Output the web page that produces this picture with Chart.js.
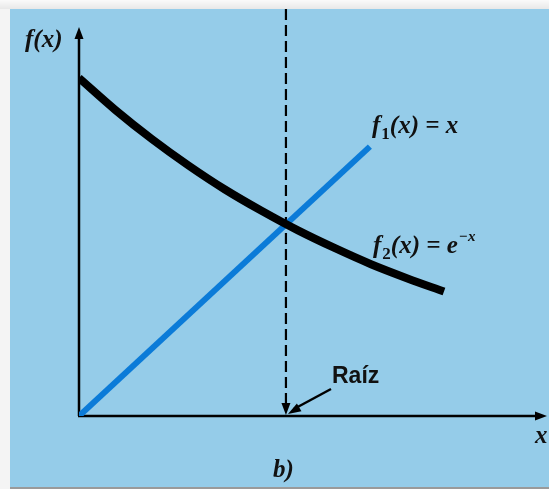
<!DOCTYPE html>
<html>
<head>
<meta charset="utf-8">
<script src="https://cdn.jsdelivr.net/npm/chart.js@4/dist/chart.umd.min.js"></script>
<style>
  html, body { margin: 0; padding: 0; background: #f3f3f3; }
  #wrap { width: 549px; height: 489px; }
</style>
</head>
<body>
<div id="wrap"><canvas id="c" width="549" height="489"></canvas></div>
<script>
// f2(x) = e^-x, sampled along the curve
const curveX = [0, 0.1, 0.2, 0.3, 0.4, 0.5, 0.6, 0.7, 0.8, 0.9, 1.0];
const curveY = [1.00, 0.905, 0.819, 0.741, 0.670, 0.607, 0.549, 0.497, 0.449, 0.407, 0.368];
// f1(x) = x
const lineX = [0, 0.797];
const lineY = [0, 0.797];
// root of f1 = f2
const rootX = 0.567;
// axis extents
const xMax = 1.285;
const yMax = 1.204;
const yAxisTip = 1.151;

const toPts = (xs, ys) => xs.map((x, i) => ({ x: x, y: ys[i] }));

function arrowHead(ctx, fx, fy, tx, ty, len, half) {
  const a = Math.atan2(ty - fy, tx - fx);
  const bx = tx - len * Math.cos(a), by = ty - len * Math.sin(a);
  ctx.beginPath();
  ctx.moveTo(tx, ty);
  ctx.lineTo(bx + half * Math.sin(a), by - half * Math.cos(a));
  ctx.lineTo(bx - half * Math.sin(a), by + half * Math.cos(a));
  ctx.closePath();
  ctx.fill();
}

const panelPlugin = {
  id: 'panel',
  beforeDraw(chart) {
    const ctx = chart.ctx;
    ctx.save();
    const g = ctx.createLinearGradient(0, 0, 0, 10);
    g.addColorStop(0, '#fafafa');
    g.addColorStop(1, '#e6e6e6');
    ctx.fillStyle = '#f4f4f4';
    ctx.fillRect(0, 0, 549, 489);
    ctx.fillStyle = g;
    ctx.fillRect(0, 0, 549, 9);
    ctx.fillStyle = '#95cce9';
    ctx.fillRect(10, 9, 539, 478);
    ctx.fillStyle = '#9a9a9a';
    ctx.fillRect(10, 487, 539, 2);
    ctx.restore();
  }
};

const axesPlugin = {
  id: 'axesDraw',
  beforeDatasetsDraw(chart) {
    const ctx = chart.ctx, xs = chart.scales.x, ys = chart.scales.y;
    const ox = xs.getPixelForValue(0), oy = ys.getPixelForValue(0);
    const right = xs.getPixelForValue(xMax);
    const top = ys.getPixelForValue(yAxisTip);
    ctx.save();
    ctx.strokeStyle = '#000';
    ctx.fillStyle = '#000';
    ctx.lineWidth = 2.5;
    ctx.beginPath();
    ctx.moveTo(ox, oy);
    ctx.lineTo(ox, top + 8);
    ctx.moveTo(ox - 1, oy);
    ctx.lineTo(right - 8, oy);
    ctx.stroke();
    arrowHead(ctx, ox, oy, ox, top, 12, 4.5);
    arrowHead(ctx, ox, oy, right - 1, oy, 12, 4.5);
    ctx.restore();
  },
  afterDatasetsDraw(chart) {
    const ctx = chart.ctx, xs = chart.scales.x, ys = chart.scales.y;
    const rx = xs.getPixelForValue(rootX), oy = ys.getPixelForValue(0);
    ctx.save();
    ctx.fillStyle = '#000';
    ctx.strokeStyle = '#000';
    // arrowhead closing the dashed root marker
    arrowHead(ctx, rx, oy - 20, rx, oy - 1, 12, 4.5);
    // arrow from the label to the root
    ctx.lineWidth = 2.5;
    ctx.beginPath();
    ctx.moveTo(331, 389);
    ctx.lineTo(rx + 8, oy - 7);
    ctx.stroke();
    arrowHead(ctx, 331, 389, rx + 2, oy - 2, 13, 4.5);

    // labels
    ctx.textBaseline = 'alphabetic';
    ctx.fillStyle = '#111';
    const ser = "'Liberation Serif', 'Times New Roman', serif";
    const main = 'bold italic 25px ' + ser;
    ctx.font = main;
    ctx.fillText('f(x)', 25, 47);

    let x = 372;
    ctx.fillText('f', x, 133); x += ctx.measureText('f').width + 1;
    ctx.font = 'bold 17px ' + ser;
    ctx.fillText('1', x, 139); x += ctx.measureText('1').width;
    ctx.font = main;
    ctx.fillText('(x) = x', x, 133);

    x = 373;
    ctx.fillText('f', x, 253); x += ctx.measureText('f').width + 1;
    ctx.font = 'bold 17px ' + ser;
    ctx.fillText('2', x, 259); x += ctx.measureText('2').width;
    ctx.font = main;
    ctx.fillText('(x) = e', x, 253); x += ctx.measureText('(x) = e').width + 1;
    ctx.font = 'bold italic 15px ' + ser;
    ctx.fillText('\u2212x', x, 241);

    ctx.font = main;
    ctx.fillText('x', 535, 443);
    ctx.fillText('b)', 273, 477);

    ctx.font = "bold 23px 'Liberation Sans', Arial, sans-serif";
    ctx.fillText('Raíz', 332, 383);
    ctx.restore();
  }
};

new Chart(document.getElementById('c'), {
  type: 'line',
  data: {
    datasets: [
      {
        label: 'f2(x) = e^-x',
        data: toPts(curveX, curveY),
        borderColor: '#000',
        borderWidth: 8,
        pointRadius: 0,
        cubicInterpolationMode: 'monotone',
        borderCapStyle: 'butt',
        order: 0
      },
      {
        label: 'f1(x) = x',
        data: toPts(lineX, lineY),
        borderColor: '#0b7bd8',
        borderWidth: 6,
        pointRadius: 0,
        borderCapStyle: 'butt',
        order: 1
      },
      {
        label: 'Raíz',
        data: [{ x: rootX, y: yMax }, { x: rootX, y: 0.03 }],
        borderColor: '#000',
        borderWidth: 2.2,
        borderDash: [11, 5],
        pointRadius: 0,
        order: 2
      }
    ]
  },
  options: {
    responsive: false,
    animation: false,
    devicePixelRatio: 1,
    layout: { padding: { left: 79, right: 1, top: 9, bottom: 73 } },
    plugins: { legend: { display: false }, tooltip: { enabled: false } },
    scales: {
      x: { type: 'linear', min: 0, max: xMax, display: false },
      y: { type: 'linear', min: 0, max: yMax, display: false }
    }
  },
  plugins: [panelPlugin, axesPlugin]
});
</script>
</body>
</html>
